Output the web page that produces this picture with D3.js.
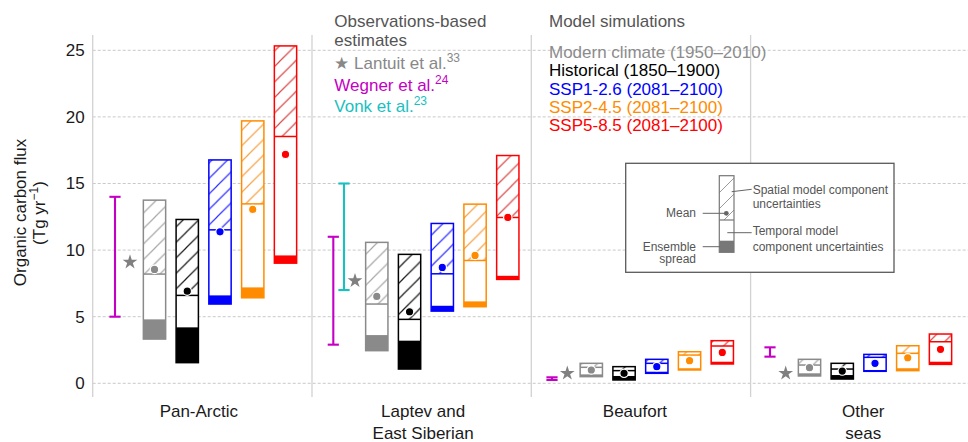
<!DOCTYPE html>
<html>
<head>
<meta charset="utf-8">
<script src="https://cdn.jsdelivr.net/npm/d3@7"></script>
<style>
  body { margin: 0; background: #fff; }
  svg { display: block; font-family: "Liberation Sans", Arial, Helvetica, sans-serif; }
</style>
</head>
<body>
<svg id="chart" width="968" height="442"></svg>
<script>
// ---- data -------------------------------------------------------------
const regions = ["Pan-Arctic", "Laptev and East Siberian", "Beaufort", "Other seas"];
const regionLabelLines = [["Pan-Arctic"], ["Laptev and", "East Siberian"], ["Beaufort"], ["Other", "seas"]];

const scenarios = [
  "Modern climate (1950\u20132010)",
  "Historical (1850\u20131900)",
  "SSP1-2.6 (2081\u20132100)",
  "SSP2-4.5 (2081\u20132100)",
  "SSP5-8.5 (2081\u20132100)"
];
const scenarioColors = ["#8a8a8a", "#000000", "#0000ff", "#ff8c00", "#ff0000"];
const hatchColors = ["#a8a8a8", "#1a1a1a", "#3030ff", "#f5a347", "#d94a4a"];

// one row per scenario, one value per region (Tg C per year)
const spreadLow = [
  [3.32, 2.45, 0.50, 0.55],
  [1.55, 1.07, 0.25, 0.32],
  [5.95, 5.42, 0.75, 0.90],
  [6.42, 5.75, 1.00, 0.95],
  [9.02, 7.80, 1.45, 1.42]
];
const spreadHigh = [
  [4.80, 3.62, 0.67, 0.75],
  [4.20, 3.20, 0.55, 0.62],
  [6.60, 5.82, 0.87, 1.00],
  [7.20, 6.15, 1.13, 1.13],
  [9.60, 8.07, 1.62, 1.62]
];
const temporalHigh = [
  [8.20, 5.95, 1.20, 1.37],
  [6.60, 4.80, 0.95, 1.07],
  [11.52, 8.22, 1.50, 1.95],
  [13.47, 9.22, 2.12, 2.25],
  [18.53, 12.45, 2.80, 3.12]
];
const spatialHigh = [
  [13.75, 10.58, 1.50, 1.80],
  [12.30, 9.68, 1.25, 1.50],
  [16.77, 12.00, 1.80, 2.17],
  [19.70, 13.45, 2.37, 2.82],
  [25.33, 17.10, 3.20, 3.70]
];
const meanValue = [
  [8.55, 6.52, 1.00, 1.17],
  [6.92, 5.37, 0.75, 0.92],
  [11.37, 8.70, 1.25, 1.50],
  [13.05, 9.60, 1.70, 1.92],
  [17.18, 12.45, 2.32, 2.55]
];

// observation-based estimates
const wegnerLow  = [5.0, 2.9, 0.25, 2.0];
const wegnerHigh = [14.0, 11.0, 0.45, 2.7];
const vonkLow    = [null, 7.0, null, null];
const vonkHigh   = [null, 15.0, null, null];
const lantuit    = [9.1, 7.7, 0.75, 0.75];

const yTicks = [0, 5, 10, 15, 20, 25];

// ---- layout -----------------------------------------------------------
const svg = d3.select("#chart");
const plotLeft = 92.7, plotRight = 968, plotTop = 35, plotBottom = 397;

const y = d3.scaleLinear().domain([0, 25]).range([383.3, 50.3]);
const panelX = d3.scaleBand().domain(regions).range([plotLeft, 969.9]);

// horizontal slot offsets inside each panel
const slotLayout = [
  { wegner: 22.3, star: 37.3, bar0: 61.8 },
  { wegner: 21.3, vonk: 32.0, star: 43.0, bar0: 64.8 },
  { wegner: 20.7, star: 36.0, bar0: 60.0 },
  { wegner: 19.4, star: 35.1, bar0: 58.9 }
];
const barStep = 32.75, barWidth = 22.3;
const labelShift = [-3.5, 1.5, -6, 3];

const magenta = "#c400c4", cyan = "#19c0c0";

// ---- hatch patterns ---------------------------------------------------
const defs = svg.append("defs");
function hatch(id, color, size, width) {
  const p = defs.append("pattern")
    .attr("id", id)
    .attr("patternUnits", "userSpaceOnUse")
    .attr("width", size).attr("height", size);
  p.append("path")
    .attr("d", `M0,${size} L${size},0 M${-size/4},${size/4} L${size/4},${-size/4} M${size*0.75},${size*1.25} L${size*1.25},${size*0.75}`)
    .attr("stroke", color).attr("stroke-width", width).attr("fill", "none");
}
hatchColors.forEach((c, i) => hatch("hatch" + i, c, 15.5, 1.2));
hatch("hatchKey", "#9a9a9a", 16, 1);

// ---- grid & panel separators -----------------------------------------
svg.append("g").selectAll("line").data(yTicks).join("line")
  .attr("x1", plotLeft).attr("x2", plotRight)
  .attr("y1", d => y(d)).attr("y2", d => y(d))
  .attr("stroke", "#c9c9c9").attr("stroke-width", 1)
  .attr("stroke-dasharray", "3,2");

svg.append("g").selectAll("line").data(regions).join("line")
  .attr("x1", d => panelX(d)).attr("x2", d => panelX(d))
  .attr("y1", plotTop).attr("y2", plotBottom)
  .attr("stroke", "#d2d2d2").attr("stroke-width", 1.3);

// ---- y axis -----------------------------------------------------------
const yAxis = svg.append("g")
  .attr("transform", `translate(${plotLeft},0)`)
  .call(d3.axisLeft(y).tickValues(yTicks).tickSize(0).tickPadding(8));
yAxis.select(".domain").remove();
yAxis.selectAll("text").attr("font-size", 17).attr("fill", "#1a1a1a")
  .attr("font-family", "Liberation Sans, Arial, sans-serif");

svg.append("text")
  .attr("transform", "translate(26,212.5) rotate(-90)")
  .attr("text-anchor", "middle").attr("font-size", 17).attr("fill", "#1a1a1a")
  .text("Organic carbon flux");
const unit = svg.append("text")
  .attr("transform", "translate(45,213) rotate(-90)")
  .attr("text-anchor", "middle").attr("font-size", 17).attr("fill", "#1a1a1a");
unit.append("tspan").text("(Tg yr");
unit.append("tspan").attr("font-size", 12).attr("dy", -7).text("\u22121");
unit.append("tspan").attr("dy", 7).text(")");

// ---- region labels ----------------------------------------------------
regions.forEach((r, i) => {
  const cx = panelX(r) + panelX.bandwidth() / 2 + labelShift[i];
  regionLabelLines[i].forEach((line, k) => {
    svg.append("text")
      .attr("x", cx).attr("y", 417 + k * 22)
      .attr("text-anchor", "middle").attr("font-size", 17).attr("fill", "#1a1a1a")
      .text(line);
  });
});

// ---- header / legend texts ------------------------------------------
const obs = svg.append("g").attr("font-size", 17);
obs.append("text").attr("x", 334.3).attr("y", 26.5).attr("fill", "#555").text("Observations-based");
obs.append("text").attr("x", 334.3).attr("y", 45.5).attr("fill", "#555").text("estimates");
function refLabel(yPos, label, ref, color) {
  const t = obs.append("text").attr("x", 334.3).attr("y", yPos).attr("fill", color);
  t.append("tspan").text(label);
  t.append("tspan").attr("font-size", 12).attr("dy", -7).text(ref);
}
refLabel(69, "\u2605 Lantuit et al.", "33", "#888");
refLabel(90.5, "Wegner et al.", "24", magenta);
refLabel(112, "Vonk et al.", "23", cyan);

const mod = svg.append("g").attr("font-size", 17);
mod.append("text").attr("x", 549).attr("y", 26.5).attr("fill", "#555").text("Model simulations");
mod.selectAll("text.scen").data(scenarios).join("text")
  .attr("class", "scen")
  .attr("x", 549).attr("y", (d, i) => 58.3 + i * 18.1)
  .attr("fill", (d, i) => i === 0 ? "#8c8c8c" : scenarioColors[i])
  .text(d => d);

// ---- observation marks -----------------------------------------------
function errorBar(g, x, lo, hi, color) {
  const half = 5.6;
  g.append("line").attr("x1", x).attr("x2", x).attr("y1", y(lo)).attr("y2", y(hi));
  g.append("line").attr("x1", x - half).attr("x2", x + half).attr("y1", y(lo)).attr("y2", y(lo));
  g.append("line").attr("x1", x - half).attr("x2", x + half).attr("y1", y(hi)).attr("y2", y(hi));
  g.attr("stroke", color).attr("stroke-width", 2.1);
}
const star = d3.symbol(d3.symbolStar, 68);

regions.forEach((r, ri) => {
  const x0 = panelX(r), L = slotLayout[ri];
  if (wegnerLow[ri] != null) errorBar(svg.append("g"), x0 + L.wegner, wegnerLow[ri], wegnerHigh[ri], magenta);
  if (vonkLow[ri] != null) errorBar(svg.append("g"), x0 + L.vonk, vonkLow[ri], vonkHigh[ri], cyan);
  svg.append("path").attr("d", star())
    .attr("transform", `translate(${x0 + L.star},${y(lantuit[ri])})`)
    .attr("fill", "#808080");
});

// ---- model bars -------------------------------------------------------
regions.forEach((r, ri) => {
  const L = slotLayout[ri];
  scenarios.forEach((s, si) => {
    const cx = panelX(r) + L.bar0 + si * barStep;
    const left = cx - barWidth / 2;
    const col = scenarioColors[si];
    const g = svg.append("g");
    // spatial component (hatched)
    g.append("rect").attr("x", left).attr("width", barWidth)
      .attr("y", y(spatialHigh[si][ri]))
      .attr("height", y(temporalHigh[si][ri]) - y(spatialHigh[si][ri]))
      .attr("fill", "#fff");
    g.append("rect").attr("x", left).attr("width", barWidth)
      .attr("y", y(spatialHigh[si][ri]))
      .attr("height", y(temporalHigh[si][ri]) - y(spatialHigh[si][ri]))
      .attr("fill", `url(#hatch${si})`);
    // temporal component (white)
    g.append("rect").attr("x", left).attr("width", barWidth)
      .attr("y", y(temporalHigh[si][ri]))
      .attr("height", y(spreadHigh[si][ri]) - y(temporalHigh[si][ri]))
      .attr("fill", "#fff");
    // ensemble spread (filled)
    g.append("rect").attr("x", left).attr("width", barWidth)
      .attr("y", y(spreadHigh[si][ri]))
      .attr("height", y(spreadLow[si][ri]) - y(spreadHigh[si][ri]))
      .attr("fill", col);
    // outline and split line
    g.append("rect").attr("x", left).attr("width", barWidth)
      .attr("y", y(spatialHigh[si][ri]))
      .attr("height", y(spreadLow[si][ri]) - y(spatialHigh[si][ri]))
      .attr("fill", "none").attr("stroke", col).attr("stroke-width", 1.5);
    g.append("line").attr("x1", left).attr("x2", left + barWidth)
      .attr("y1", y(temporalHigh[si][ri])).attr("y2", y(temporalHigh[si][ri]))
      .attr("stroke", col).attr("stroke-width", 1.5);
    // mean
    g.append("circle").attr("cx", cx).attr("cy", y(meanValue[si][ri])).attr("r", 4.2)
      .attr("fill", col).attr("stroke", "#fff").attr("stroke-width", 1.2);
  });
});

// ---- explanatory key --------------------------------------------------
const key = svg.append("g").attr("font-size", 12).attr("fill", "#555");
key.append("rect").attr("x", 625.7).attr("y", 163.3).attr("width", 268.3).attr("height", 109)
  .attr("fill", "#fff").attr("stroke", "#5a5a5a").attr("stroke-width", 1.3);
const kb = { x: 719.3, w: 14.7, top: 175.7, split: 220, sTop: 240.7, bottom: 252.3 };
key.append("rect").attr("x", kb.x).attr("y", kb.top).attr("width", kb.w).attr("height", kb.split - kb.top)
  .attr("fill", "url(#hatchKey)");
key.append("rect").attr("x", kb.x).attr("y", kb.sTop).attr("width", kb.w).attr("height", kb.bottom - kb.sTop)
  .attr("fill", "#777");
key.append("rect").attr("x", kb.x).attr("y", kb.top).attr("width", kb.w).attr("height", kb.bottom - kb.top)
  .attr("fill", "none").attr("stroke", "#777").attr("stroke-width", 1.2);
key.append("line").attr("x1", kb.x).attr("x2", kb.x + kb.w).attr("y1", kb.split).attr("y2", kb.split)
  .attr("stroke", "#777").attr("stroke-width", 1.2);
key.append("circle").attr("cx", 726.3).attr("cy", 213.3).attr("r", 2.4).attr("fill", "#666");

const leaders = [
  [731.7, 191.7, 751.7, 189.3],
  [727.3, 232.7, 751.7, 232.7],
  [702.7, 213.3, 724.0, 213.3],
  [702.7, 246.7, 720.0, 246.7]
];
key.selectAll("line.leader").data(leaders).join("line").attr("class", "leader")
  .attr("x1", d => d[0]).attr("y1", d => d[1]).attr("x2", d => d[2]).attr("y2", d => d[3])
  .attr("stroke", "#666").attr("stroke-width", 1);

key.append("text").attr("x", 752.7).attr("y", 194).text("Spatial model component");
key.append("text").attr("x", 752.7).attr("y", 207.7).text("uncertainties");
key.append("text").attr("x", 752.7).attr("y", 235).text("Temporal model");
key.append("text").attr("x", 752.7).attr("y", 250.7).text("component uncertainties");
key.append("text").attr("x", 696).attr("y", 217.3).attr("text-anchor", "end").text("Mean");
key.append("text").attr("x", 696).attr("y", 250.7).attr("text-anchor", "end").text("Ensemble");
key.append("text").attr("x", 696).attr("y", 263).attr("text-anchor", "end").text("spread");
</script>
</body>
</html>
